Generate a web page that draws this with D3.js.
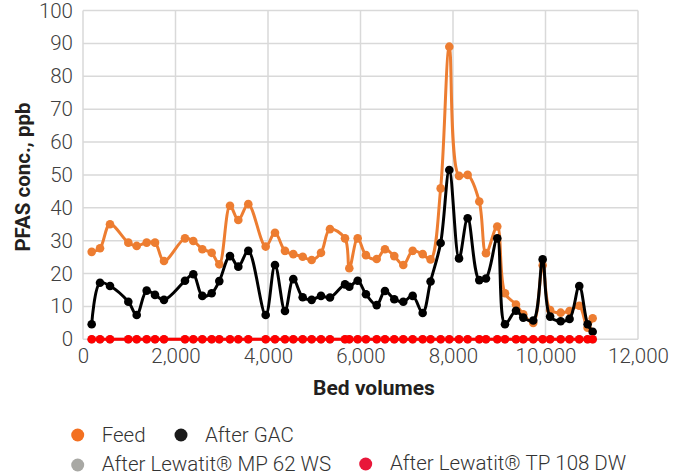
<!DOCTYPE html>
<html>
<head>
<meta charset="utf-8">
<script src="https://cdn.jsdelivr.net/npm/d3@7/dist/d3.min.js"></script>
<style>
  html, body { margin: 0; padding: 0; background: #fff; }
  svg { display: block; }
  text { font-family: Roboto, "Noto Sans", sans-serif; }
</style>
</head>
<body>
<svg id="chart" width="684" height="475"></svg>
<script>
// ---- Data ----
const bedVolumes = [188, 368, 584, 980, 1161, 1377, 1557, 1751, 2205, 2385, 2580, 2782, 2947, 3178, 3358, 3574,
  3950, 4151, 4367, 4547, 4750, 4944, 5146, 5340, 5665, 5758, 5939, 6118, 6350, 6529, 6730, 6925, 7128, 7344,
  7515, 7733, 7920, 8130, 8317, 8568, 8713, 8957, 9124, 9362, 9519, 9735, 9939, 10100, 10328, 10520, 10730, 10910, 11020];
const feed = [26.6, 27.7, 35.0, 29.4, 28.4, 29.4, 29.4, 23.8, 30.7, 29.9, 27.4, 26.3, 22.8, 40.6, 36.3, 41.1,
  28.2, 32.4, 26.9, 25.9, 25.1, 24.1, 26.3, 33.5, 30.7, 21.6, 30.7, 25.6, 24.4, 27.4, 25.3, 22.6, 26.9, 25.9,
  24.3, 45.9, 89.0, 49.7, 50.0, 41.9, 26.2, 34.3, 14.0, 10.6, 7.6, 5.0, 22.5, 8.9, 8.1, 8.6, 10.2, 3.5, 6.4];
const afterGAC = [4.6, 17.2, 16.2, 11.4, 7.4, 14.8, 13.5, 12.0, 17.8, 19.8, 13.2, 14.0, 17.7, 25.3, 22.1, 26.9,
  7.4, 22.6, 8.6, 18.3, 12.8, 12.0, 13.2, 12.7, 16.7, 16.0, 17.8, 13.7, 10.4, 14.7, 12.2, 11.4, 13.2, 8.0,
  17.6, 29.3, 51.5, 24.6, 36.8, 18.0, 18.5, 30.7, 4.6, 8.7, 6.6, 5.7, 24.3, 6.9, 5.5, 6.2, 16.2, 4.6, 2.3];
const afterMP62 = [0, 0, 0, 0, 0, 0, 0, 0, 0, 0, 0, 0, 0, 0, 0, 0, 0, 0, 0, 0, 0, 0, 0, 0, 0, 0, 0, 0, 0, 0,
  0, 0, 0, 0, 0, 0, 0, 0, 0, 0, 0, 0, 0, 0, 0, 0, 0, 0, 0, 0, 0, 0, 0];
const afterTP108 = [0, 0, 0, 0, 0, 0, 0, 0, 0, 0, 0, 0, 0, 0, 0, 0, 0, 0, 0, 0, 0, 0, 0, 0, 0, 0, 0, 0, 0, 0,
  0, 0, 0, 0, 0, 0, 0, 0, 0, 0, 0, 0, 0, 0, 0, 0, 0, 0, 0, 0, 0, 0, 0];
const xTicks = [0, 2000, 4000, 6000, 8000, 10000, 12000];
const yTicks = [0, 10, 20, 30, 40, 50, 60, 70, 80, 90, 100];
const seriesNames = ["Feed", "After GAC", "After Lewatit\u00AE MP 62 WS", "After Lewatit\u00AE TP 108 DW"];
const lineColors = ["#ED7D31", "#000000", "#A5A5A5", "#FF0000"];
const legendColors = ["#F37021", "#1A1A1A", "#A8A8A4", "#E8173A"];

// ---- Layout ----
const svg = d3.select("#chart");
const x = d3.scaleLinear().domain([0, 12000]).range([83, 638]);
const y = d3.scaleLinear().domain([0, 100]).range([339.3, 10.5]);

// Grid
const grid = svg.append("g");
grid.selectAll("line.h").data(yTicks).enter().append("line")
  .attr("x1", x(0)).attr("x2", x(12000))
  .attr("y1", d => y(d)).attr("y2", d => y(d))
  .attr("stroke", "#D9D9D9").attr("stroke-width", 1.5);
grid.selectAll("line.v").data(xTicks).enter().append("line")
  .attr("y1", y(0)).attr("y2", y(100))
  .attr("x1", d => x(d)).attr("x2", d => x(d))
  .attr("stroke", "#D9D9D9").attr("stroke-width", 1.5);

// Axes (labels only)
const yAxis = d3.axisLeft(y).tickValues(yTicks).tickSize(0).tickPadding(10);
const gy = svg.append("g").attr("transform", `translate(${x(0)},0)`).call(yAxis);
gy.select(".domain").remove();
gy.selectAll("text").attr("font-size", 20.5).attr("font-weight", 300).attr("fill", "#404040")
  .attr("font-family", "Roboto, sans-serif");

const xAxis = d3.axisBottom(x).tickValues(xTicks).tickSize(0).tickPadding(9).tickFormat(d3.format(","));
const gx = svg.append("g").attr("transform", `translate(0,${y(0)})`).call(xAxis);
gx.select(".domain").remove();
gx.selectAll("text").attr("font-size", 20.5).attr("font-weight", 300).attr("fill", "#404040")
  .attr("font-family", "Roboto, sans-serif");

// Axis titles
svg.append("text").attr("x", 374).attr("y", 395).attr("text-anchor", "middle")
  .attr("font-size", 21).attr("font-weight", 700).attr("fill", "#231F20").text("Bed volumes");
svg.append("text").attr("transform", "translate(30,177) rotate(-90)").attr("text-anchor", "middle")
  .attr("font-size", 20.5).attr("font-weight", 700).attr("fill", "#231F20").text("PFAS conc., ppb");

// Series
const seriesVals = [feed, afterGAC, afterMP62, afterTP108];
const line = d3.line().x(d => x(d[0])).y(d => y(d[1])).curve(d3.curveCatmullRom.alpha(0.5));
seriesVals.forEach((vals, i) => {
  const pts = bedVolumes.map((b, j) => [b, vals[j]]);
  const g = svg.append("g");
  g.append("path").attr("d", line(pts)).attr("fill", "none")
    .attr("stroke", lineColors[i]).attr("stroke-width", 3).attr("stroke-linejoin", "round");
  g.selectAll("circle").data(pts).enter().append("circle")
    .attr("cx", d => x(d[0])).attr("cy", d => y(d[1])).attr("r", 4.3)
    .attr("fill", lineColors[i]);
});

// Legend
const legendPos = [
  {cx: 77.7, cy: 435, tx: 101.7, ty: 442},
  {cx: 181, cy: 435, tx: 205, ty: 442},
  {cx: 77.7, cy: 465, tx: 101.7, ty: 470.5},
  {cx: 365.7, cy: 464, tx: 390, ty: 470}
];
const leg = svg.append("g");
seriesNames.forEach((n, i) => {
  const p = legendPos[i];
  leg.append("circle").attr("cx", p.cx).attr("cy", p.cy).attr("r", 6.5).attr("fill", legendColors[i]);
  leg.append("text").attr("x", p.tx).attr("y", p.ty).attr("font-size", 20.5).attr("font-weight", 300)
    .attr("fill", "#333333").text(n);
});
</script>
</body>
</html>
